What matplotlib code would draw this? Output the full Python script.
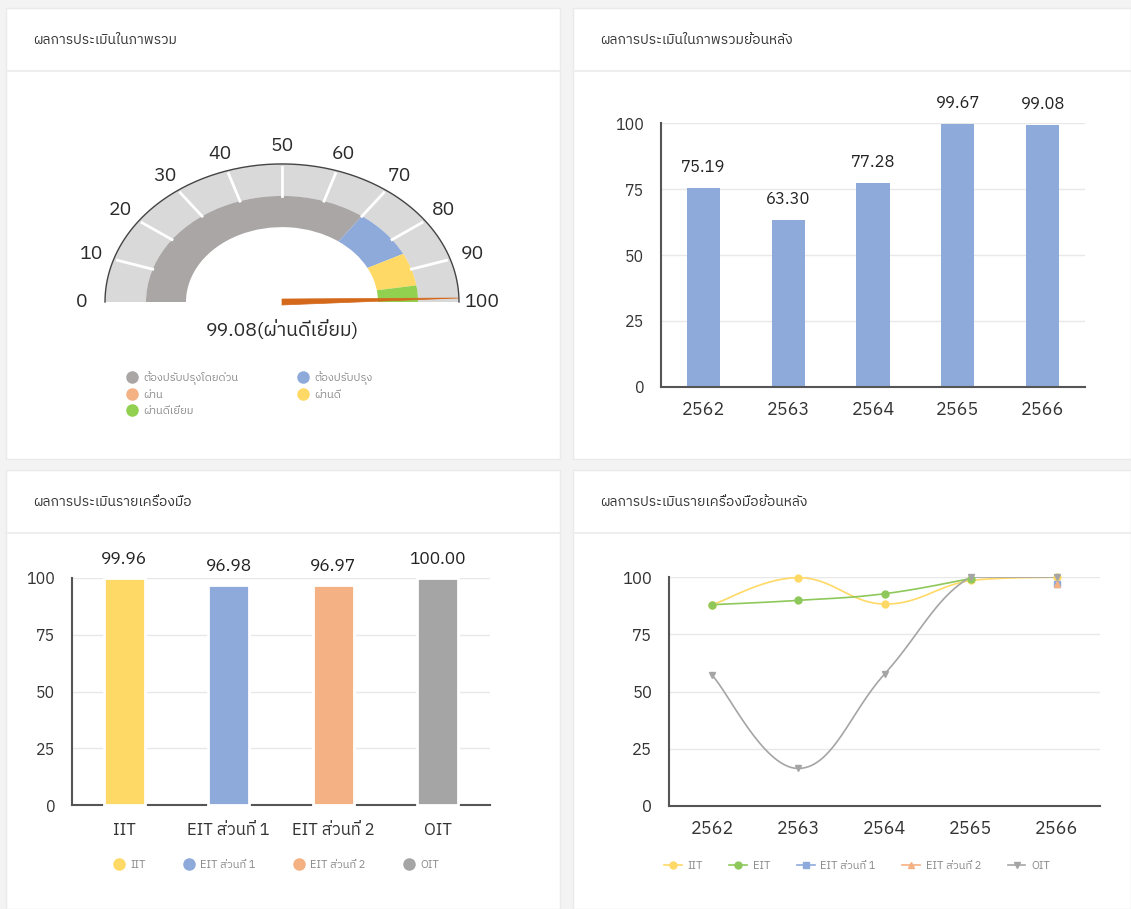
import numpy as np
import matplotlib
matplotlib.use('Agg')
import matplotlib.pyplot as plt
from matplotlib import font_manager as fm
from matplotlib.patches import Wedge, Rectangle, Polygon
from matplotlib.lines import Line2D
from fontTools.ttLib import TTFont

# ---- data ----
gauge_ticks = [0, 10, 20, 30, 40, 50, 60, 70, 80, 90, 100]
gauge_levels = ['ต้องปรับปรุงโดยด่วน', 'ต้องปรับปรุง', 'ผ่าน', 'ผ่านดี', 'ผ่านดีเยี่ยม']
gauge_bounds = [0, 70, 85, 85, 95, 100]
gauge_colors = ['#aaa6a6', '#8eaadb', '#f4b183', '#ffd966', '#92d050']
gauge_score = 99.08
gauge_label = '99.08(ผ่านดีเยี่ยม)'

years = ['2562', '2563', '2564', '2565', '2566']
overall_scores = [75.19, 63.30, 77.28, 99.67, 99.08]

tools = ['IIT', 'EIT ส่วนที่ 1', 'EIT ส่วนที่ 2', 'OIT']
tool_scores = [99.96, 96.98, 96.97, 100.00]
tool_colors = ['#ffd966', '#8eaadb', '#f4b183', '#a5a5a5']

nan = np.nan
hist_names = ['IIT', 'EIT', 'EIT ส่วนที่ 1', 'EIT ส่วนที่ 2', 'OIT']
iit_hist = [87.9, 99.7, 88.2, 98.5, 99.96]
eit_hist = [87.9, 89.8, 92.7, 99.3, nan]
eit1_hist = [nan, nan, nan, nan, 96.98]
eit2_hist = [nan, nan, nan, nan, 96.97]
oit_hist = [57.1, 16.4, 57.6, 100.0, 100.0]
hist_colors = ['#ffd966', '#8fc85a', '#8eaadb', '#f4b183', '#a5a5a5']
hist_markers = ['o', 'o', 's', '^', 'v']

titles = ['ผลการประเมินในภาพรวม', 'ผลการประเมินในภาพรวมย้อนหลัง',
          'ผลการประเมินรายเครื่องมือ', 'ผลการประเมินรายเครื่องมือย้อนหลัง']


def find_thai_font():
    found = []
    for f in fm.fontManager.ttflist:
        try:
            cmap = TTFont(f.fname, fontNumber=0, lazy=True).getBestCmap()
        except Exception:
            continue
        if cmap and 0x0E1C in cmap and 0x0E40 in cmap:
            found.append(f.name)
    for n in found:
        if 'Thai' in n and 'Looped' not in n:
            return n
    return found[0] if found else 'DejaVu Sans'


thai = find_thai_font()
plt.rcParams['font.family'] = [thai, 'DejaVu Sans']

W, H = 1131, 909
fig = plt.figure(figsize=(W / 100, H / 100), dpi=100)
fig.patch.set_facecolor('#f3f3f3')


def px_axes(x0, y0, x1, y1):
    return fig.add_axes([x0 / W, 1 - y1 / H, (x1 - x0) / W, (y1 - y0) / H])


# background: cards + titles
bg = px_axes(0, 0, W, H)
bg.set_xlim(0, W)
bg.set_ylim(H, 0)
bg.axis('off')
cards = [(6, 8, 560, 459), (573, 8, 1131, 459), (6, 470, 560, 909), (573, 470, 1131, 909)]
for (x0, y0, x1, y1), t in zip(cards, titles):
    bg.add_patch(Rectangle((x0, y0), x1 - x0, y1 - y0, fc='white', ec='#eaeaea', lw=1))
    bg.plot([x0, x1], [y0 + 63, y0 + 63], color='#eeeeee', lw=1.5)
    bg.text(x0 + 27, y0 + 32, t, fontsize=10, color='#333333', va='center')


def style_axes(ax):
    for s in ['top', 'right']:
        ax.spines[s].set_visible(False)
    for s in ['left', 'bottom']:
        ax.spines[s].set_color('#555555')
        ax.spines[s].set_linewidth(1.5)
    ax.set_ylim(0, 100)
    ax.set_yticks([0, 25, 50, 75, 100])
    ax.grid(axis='y', color='#e8e8e8', lw=1)
    ax.set_axisbelow(True)
    ax.tick_params(length=0, colors='#333333', labelsize=11.5, pad=12)
    ax.tick_params(axis='x', labelsize=13, pad=10)


legend_kw = dict(frameon=False, fontsize=8, labelcolor='#8a8a8a', borderaxespad=0, borderpad=0)

# ---- gauge ----
sq = 0.78  # vertical squash of the gauge
gx = px_axes(40, 110, 520, 350)
gx.set_xlim(40 - 282, 520 - 282)
gx.set_ylim((302 - 350) / sq, (302 - 110) / sq)
gx.axis('off')
R, ring, band_out, band_in = 177, 136, 136, 96


def ang(v):
    return 180 - 1.8 * v


gx.add_patch(Wedge((0, 0), R, 0, 180, width=R - ring, fc='#d9d9d9', ec='none'))
th = np.radians(np.linspace(0, 180, 200))
gx.plot(R * np.cos(th), R * np.sin(th), color='#444444', lw=1)
for v in gauge_ticks[1:-1]:
    a = np.radians(ang(v))
    gx.plot([ring * np.cos(a), (R - 4) * np.cos(a)], [ring * np.sin(a), (R - 4) * np.sin(a)],
            color='white', lw=2)
for i, c in enumerate(gauge_colors):
    lo, hi = gauge_bounds[i], gauge_bounds[i + 1]
    if hi > lo:
        gx.add_patch(Wedge((0, 0), band_out, ang(hi), ang(lo), width=band_out - band_in, fc=c, ec='none'))
for v in gauge_ticks:
    a = np.radians(ang(v))
    gx.text(200 * np.cos(a), 200 * np.sin(a), str(v), fontsize=14, color='#2a2a2a',
            ha='center', va='center')
a = np.radians(ang(gauge_score))
w = 3.0
needle = [(R * np.cos(a), R * np.sin(a)), (0, w / sq), (0, -w / sq)]
gx.add_patch(Polygon(needle, closed=True, fc='#d4691c', ec='#d4691c', lw=0.5))
gx.text(0, -28 / sq, gauge_label, fontsize=14, color='#2a2a2a', ha='center', va='center')

handles = [Line2D([], [], ls='none', marker='o', ms=8, color=c) for c in gauge_colors]
order = [0, 2, 4, 1, 3]
fig.legend([handles[i] for i in order], [gauge_levels[i] for i in order],
           loc='upper left', bbox_to_anchor=(128 / W, 1 - 371 / H), ncol=2,
           handlelength=0.8, handletextpad=0.6, labelspacing=0.5, columnspacing=5.4,
           **legend_kw)

# ---- overall history bars ----
ax2 = px_axes(661, 123, 1085, 387)
style_axes(ax2)
x = np.arange(len(years))
ax2.bar(x, overall_scores, width=0.39, color='#8eaadb', zorder=2)
ax2.set_xlim(-0.5, len(years) - 0.5)
ax2.set_xticks(x, years)
for xi, v in zip(x, overall_scores):
    ax2.text(xi, v + 5, f'{v:.2f}', ha='center', va='bottom', fontsize=12, color='#222222')

# ---- per tool bars ----
ax3 = px_axes(72, 578, 490, 805)
style_axes(ax3)
x = np.arange(len(tools))
ax3.bar(x, tool_scores, width=0.39, color=tool_colors, ec='white', lw=2, zorder=3, clip_on=False)
ax3.set_xlim(-0.5, len(tools) - 0.5)
ax3.set_xticks(x, tools)
ax3.tick_params(axis='x', labelsize=12, pad=12)
for xi, v in zip(x, tool_scores):
    ax3.text(xi, v + 5, f'{v:.2f}', ha='center', va='bottom', fontsize=12.5, color='#222222')
h3 = [Line2D([], [], ls='none', marker='o', ms=8, color=c) for c in tool_colors]
ax3.legend(h3, tools, loc='center', bbox_to_anchor=(0.49, -0.265), ncol=4,
           handlelength=0.8, handletextpad=0.6, columnspacing=3.5, **legend_kw)

# ---- per tool history lines ----
ax4 = px_axes(669, 577, 1100, 806)
style_axes(ax4)
x = np.arange(len(years))


def smooth(xs, ys, t=0.2, n=30):
    # chart.js-like cubic bezier through the points, control points capped at 100
    xs, ys = np.asarray(xs, float), np.asarray(ys, float)
    ok = ~np.isnan(ys)
    xs, ys = xs[ok], ys[ok]
    if len(xs) < 2:
        return xs, ys
    px, py = [], []
    for i in range(len(xs) - 1):
        i0, i3 = max(i - 1, 0), min(i + 2, len(xs) - 1)
        c1 = np.array([xs[i] + t * (xs[i + 1] - xs[i0]), ys[i] + t * (ys[i + 1] - ys[i0])])
        c2 = np.array([xs[i + 1] - t * (xs[i3] - xs[i]), ys[i + 1] - t * (ys[i3] - ys[i])])
        c1[1], c2[1] = min(c1[1], 100), min(c2[1], 100)
        s = np.linspace(0, 1, n)[:, None]
        p0, p3 = np.array([xs[i], ys[i]]), np.array([xs[i + 1], ys[i + 1]])
        pts = (1 - s) ** 3 * p0 + 3 * (1 - s) ** 2 * s * c1 + 3 * (1 - s) * s ** 2 * c2 + s ** 3 * p3
        px.extend(pts[:, 0])
        py.extend(pts[:, 1])
    return np.array(px), np.array(py)


series = [iit_hist, eit_hist, eit1_hist, eit2_hist, oit_hist]
h4 = []
for name, ys, c, m in zip(hist_names, series, hist_colors, hist_markers):
    sx, sy = smooth(x, ys)
    ax4.plot(sx, sy, color=c, lw=1.2, zorder=3)
    ax4.plot(x, ys, ls='none', marker=m, ms=5, color=c, zorder=4, clip_on=False)
    h4.append(Line2D([], [], color=c, lw=1.2, marker=m, ms=5))
ax4.set_xlim(-0.5, len(years) - 0.5)
ax4.set_xticks(x, years)
ax4.tick_params(axis='y', labelsize=12)
ax4.legend(h4, hist_names, loc='center', bbox_to_anchor=(0.436, -0.26), ncol=5,
           handlelength=1.6, handletextpad=0.5, columnspacing=2.4, **legend_kw)

fig.savefig('out.png', dpi=100, facecolor=fig.get_facecolor())
